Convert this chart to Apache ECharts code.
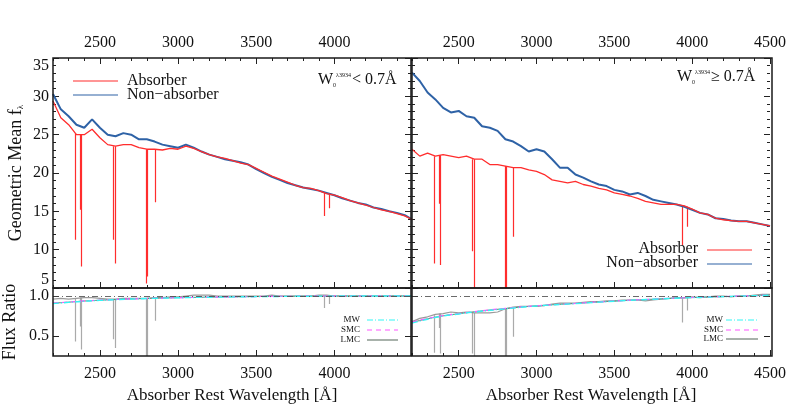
<!DOCTYPE html>
<html>
<head>
<meta charset="utf-8">
<script src="https://cdn.jsdelivr.net/npm/echarts@6/dist/echarts.min.js"></script>
<style>
  html, body { margin: 0; padding: 0; background: #fff; }
  #chart { width: 789px; height: 415px; }
</style>
</head>
<body>
<div id="chart"></div>
<script>
// wavelength grid [A]
const wave = [2200, 2250, 2300, 2350, 2400, 2450, 2500, 2550, 2600, 2650,
  2700, 2750, 2800, 2850, 2900, 2950, 3000, 3050, 3100, 3150,
  3200, 3250, 3300, 3350, 3400, 3450, 3500, 3550, 3600, 3650,
  3700, 3750, 3800, 3850, 3900, 3950, 4000, 4050, 4100, 4150,
  4200, 4250, 4300, 4350, 4400, 4450, 4500];

// left panel: W0 < 0.7A
const absorberL = [29.4, 27.2, 26.3, 25.0, 25.0, 25.7, 24.6, 23.7, 23.5, 23.7,
  23.7, 23.3, 23.1, 23.1, 23.0, 23.2, 23.1, 23.5, 23.2, 22.8,
  22.4, 22.1, 21.9, 21.6, 21.3, 21.1, 20.6, 20.1, 19.6, 19.2,
  18.8, 18.4, 18.1, 18.0, 17.7, 17.3, 17.1, 16.8, 16.4, 16.1,
  15.8, 15.5, 15.2, 15.0, 14.7, 14.4, 13.9];
const nonAbsorberL = [30.3, 28.3, 27.4, 26.3, 25.9, 27.0, 25.9, 25.0, 24.8, 25.2,
  25.0, 24.4, 24.4, 24.1, 23.7, 23.5, 23.3, 23.7, 23.3, 22.8,
  22.4, 22.1, 21.8, 21.6, 21.4, 21.1, 20.5, 20.0, 19.5, 19.1,
  18.7, 18.4, 18.1, 17.9, 17.7, 17.4, 17.1, 16.7, 16.4, 16.1,
  15.9, 15.5, 15.3, 15.0, 14.8, 14.5, 13.9];
const ratioL = [0.96, 0.97, 0.96, 0.97, 0.98, 0.98, 0.97, 0.96, 0.96, 0.97,
  0.97, 0.97, 0.97, 0.98, 0.98, 0.99, 0.99, 1.0, 1.01, 1.01,
  1.01, 1.0, 1.0, 1.0, 1.0, 1.0, 1.0, 1.0, 1.01, 1.0,
  1.0, 1.0, 1.0, 1.0, 1.01, 1.01, 1.0, 1.0, 1.0, 1.0,
  1.0, 1.0, 1.0, 1.0, 1.0, 1.0, 1.0];

// right panel: W0 >= 0.7A
const absorberR = [23.1, 22.2, 22.6, 22.2, 22.4, 22.2, 22.0, 22.2, 21.8, 21.8,
  21.1, 21.1, 20.9, 20.7, 20.7, 20.4, 20.2, 19.8, 19.1, 18.9,
  18.7, 18.9, 18.5, 18.3, 18.0, 17.8, 17.4, 17.2, 17.0, 16.7,
  16.3, 16.1, 15.9, 15.9, 15.9, 15.7, 15.3, 14.8, 14.6, 14.1,
  13.9, 13.8, 13.7, 13.7, 13.5, 13.3, 13.1];
const nonAbsorberR = [33.1, 32.0, 30.5, 29.6, 28.5, 27.9, 28.1, 27.4, 27.2, 26.1,
  25.9, 25.5, 24.4, 24.1, 23.5, 22.8, 23.1, 22.8, 21.8, 20.7,
  20.7, 19.8, 19.4, 18.9, 18.5, 18.3, 17.8, 17.6, 17.2, 17.4,
  17.0, 16.5, 16.3, 16.1, 15.9, 15.6, 15.2, 14.8, 14.6, 14.1,
  14.0, 13.8, 13.7, 13.7, 13.5, 13.3, 13.1];
const ratioR = [0.68, 0.72, 0.74, 0.77, 0.78, 0.80, 0.79, 0.80, 0.79, 0.79,
  0.79, 0.80, 0.84, 0.86, 0.87, 0.87, 0.87, 0.88, 0.90, 0.91,
  0.91, 0.91, 0.92, 0.93, 0.93, 0.94, 0.94, 0.95, 0.95, 0.95,
  0.94, 0.95, 0.96, 0.97, 0.98, 0.98, 0.99, 0.98, 0.99, 1.0,
  1.0, 0.99, 1.0, 1.0, 1.01, 1.02, 1.02];

// absorption lines (FeII, MgII, MgI, CaII)
const lineWave = [2344, 2374, 2383, 2587, 2600, 2796, 2803, 2853, 3934, 3969];
const lineTopL = [25.2, 25.0, 25.0, 23.5, 23.5, 23.1, 23.1, 23.1, 17.5, 17.3];
const lineBotL = [11.3, 15.2, 7.8, 11.3, 8.2, 5.6, 6.5, 16.2, 14.4, 15.4];
const lineTopR = [22.2, 22.3, 22.3, 21.8, 21.8, 20.9, 20.9, 20.7, 15.7, 15.6];
const lineBotR = [8.2, 16.0, 8.0, 9.8, 5.0, 5.0, 5.0, 11.7, 10.6, 13.0];
const ratioTopL = [0.97, 0.98, 0.98, 0.96, 0.96, 0.97, 0.97, 0.98, 1.0, 1.0];
const ratioBotL = [0.43, 0.62, 0.33, 0.46, 0.35, 0.25, 0.25, 0.69, 0.85, 0.90];
const ratioTopR = [0.76, 0.78, 0.78, 0.79, 0.79, 0.84, 0.84, 0.86, 0.98, 0.98];
const ratioBotR = [0.29, 0.60, 0.28, 0.28, 0.25, 0.25, 0.25, 0.49, 0.67, 0.82];

// extinction curve fits to the flux ratio
const fitWave = [2200, 2300, 2400, 2500, 2600, 2800, 3000, 3250, 3500, 3750, 4000, 4250, 4500];
const mwL  = [0.905, 0.92, 0.935, 0.945, 0.955, 0.968, 0.978, 0.986, 0.992, 0.996, 0.999, 1.0, 1.0];
const smcL = [0.91, 0.925, 0.938, 0.948, 0.957, 0.969, 0.979, 0.987, 0.993, 0.997, 1.0, 1.0, 1.0];
const lmcL = [0.91, 0.923, 0.937, 0.947, 0.956, 0.969, 0.979, 0.987, 0.993, 0.997, 0.999, 1.0, 1.0];
const mwR  = [0.66, 0.71, 0.75, 0.775, 0.80, 0.84, 0.875, 0.905, 0.935, 0.96, 0.98, 0.995, 1.01];
const smcR = [0.675, 0.72, 0.755, 0.78, 0.805, 0.845, 0.878, 0.908, 0.937, 0.961, 0.981, 0.996, 1.01];
const lmcR = [0.67, 0.715, 0.752, 0.778, 0.803, 0.843, 0.877, 0.907, 0.936, 0.96, 0.98, 0.995, 1.01];

const majorX = [2500, 3000, 3500, 4000, 4500];

const FONT = 'Liberation Serif';
const RED = '#ff2d2d';
const BLUE = '#2e62a6';
const GREY = '#9a9a9a';
const MW_C = '#33f5f5';
const SMC_C = '#ff55ff';
const LMC_C = '#6f7f74';

// tick label style, through rich text so the serif face sticks
const tickRich = { t: { fontFamily: FONT, fontSize: 16, color: '#111' } };

const pairs = (xs, ys) => xs.map((x, i) => [x, ys[i]]);
const segs = (xs, top, bot) => xs.map((x, i) => ({ coords: [[x, top[i]], [x, bot[i]]] }));

// grids: left/right, top (spectrum) / bottom (ratio)
const grids = [
  { left: 53, top: 58, width: 358, height: 230 },
  { left: 53, top: 288, width: 358, height: 68 },
  { left: 412, top: 58, width: 360, height: 230 },
  { left: 412, top: 288, width: 360, height: 68 }
];

const xMax = [4490, 4490, 4500, 4500];

function xPair(gi, position, labels, name) {
  const base = {
    type: 'value', gridIndex: gi, position: position, min: 2200, max: xMax[gi],
    axisLine: { show: false }, splitLine: { show: false }
  };
  const minor = Object.assign({}, base, {
    interval: 100,
    axisTick: { inside: true, length: 3, lineStyle: { color: '#222', width: 1 } },
    axisLabel: { show: false }
  });
  const major = Object.assign({}, base, {
    axisTick: { inside: true, length: 6, customValues: majorX, lineStyle: { color: '#222', width: 1 } },
    axisLabel: labels ? {
      show: true, customValues: majorX.filter(v => v <= xMax[gi]),
      formatter: v => '{t|' + v + '}', rich: tickRich,
      fontFamily: FONT, fontSize: 16, color: '#111', margin: position === 'top' ? 7 : 10
    } : { show: false }
  });
  if (name) {
    major.name = 'Absorber Rest Wavelength [Å]';
    major.nameLocation = 'middle';
    major.nameGap = 31;
    major.nameTextStyle = { fontFamily: FONT, fontSize: 17, color: '#111' };
  }
  return [minor, major];
}

const xAxes = [].concat(
  xPair(0, 'bottom', false), xPair(0, 'top', true),   // 0..3
  xPair(1, 'bottom', true, true),                      // 4,5
  xPair(2, 'bottom', false), xPair(2, 'top', true),   // 6..9
  xPair(3, 'bottom', true, true)                       // 10,11
);

function ySpec(gi, position, labels) {
  const ax = {
    type: 'value', gridIndex: gi, position: position, min: 5, max: 35, interval: 5,
    axisLine: { show: false }, splitLine: { show: false },
    axisTick: { inside: true, length: 6, lineStyle: { color: '#222' } },
    minorTick: { show: true, splitNumber: 5, length: 3, lineStyle: { color: '#222' } },
    axisLabel: labels ? {
      formatter: v => '{t|' + v + '}', rich: tickRich,
      fontFamily: FONT, fontSize: 16, color: '#111', margin: 4,
      verticalAlignMinLabel: 'bottom', verticalAlignMaxLabel: 'top'
    } : { show: false }
  };
  if (labels) {
    ax.name = '{a|Geometric Mean f}{s|λ}';
    ax.nameLocation = 'middle';
    ax.nameGap = 28;
    ax.nameTextStyle = {
      fontFamily: FONT, color: '#111',
      rich: {
        a: { fontFamily: FONT, fontSize: 18, color: '#111' },
        s: { fontFamily: FONT, fontSize: 9, color: '#111', verticalAlign: 'bottom' }
      }
    };
  }
  return ax;
}

function yRatio(gi, position, labels) {
  const ax = {
    type: 'value', gridIndex: gi, position: position, min: 0.25, max: 1.1,
    axisLine: { show: false }, splitLine: { show: false },
    axisTick: { inside: true, length: 6, customValues: [0.5, 1.0], lineStyle: { color: '#222' } },
    axisLabel: labels ? {
      customValues: [0.5, 1.0], formatter: v => '{t|' + v.toFixed(1) + '}', rich: tickRich,
      fontFamily: FONT, fontSize: 16, color: '#111', margin: 4
    } : { show: false }
  };
  if (labels) {
    ax.name = 'Flux Ratio';
    ax.nameLocation = 'middle';
    ax.nameGap = 34;
    ax.nameTextStyle = { fontFamily: FONT, fontSize: 18, color: '#111' };
  }
  return ax;
}

const yAxes = [
  ySpec(0, 'left', true), ySpec(0, 'right', false),     // 0,1
  yRatio(1, 'left', true), yRatio(1, 'right', false),   // 2,3
  ySpec(2, 'left', false), ySpec(2, 'right', false),    // 4,5
  yRatio(3, 'left', false), yRatio(3, 'right', false)   // 6,7
];

function spec(xi, yi, data, color, width) {
  return {
    type: 'line', xAxisIndex: xi, yAxisIndex: yi, data: data,
    showSymbol: false, silent: true, clip: true,
    lineStyle: { color: color, width: width }
  };
}

function dips(xi, yi, data, color) {
  return {
    type: 'lines', coordinateSystem: 'cartesian2d', xAxisIndex: xi, yAxisIndex: yi,
    data: data, silent: true, polyline: false,
    lineStyle: { color: color, width: 1.2, opacity: 1 }
  };
}

function fit(xi, yi, ys, color, dash, width) {
  return {
    type: 'line', xAxisIndex: xi, yAxisIndex: yi, data: pairs(fitWave, ys),
    showSymbol: false, silent: true, smooth: true,
    lineStyle: { color: color, type: dash, width: width }
  };
}

function unity(xi, yi) {
  return {
    type: 'line', xAxisIndex: xi, yAxisIndex: yi, data: [], silent: true,
    markLine: {
      silent: true, symbol: 'none', label: { show: false },
      lineStyle: { color: '#444', type: [6, 3, 1, 3], width: 0.8 },
      data: [{ yAxis: 1.0 }]
    }
  };
}

const series = [
  // left top
  spec(0, 0, pairs(wave, nonAbsorberL), BLUE, 2),
  spec(0, 0, pairs(wave, absorberL), RED, 1.3),
  dips(0, 0, segs(lineWave, lineTopL, lineBotL), RED),
  // left bottom
  unity(4, 2),
  spec(4, 2, pairs(wave, ratioL), GREY, 1.2),
  dips(4, 2, segs(lineWave, ratioTopL, ratioBotL), '#aaaaaa'),
  fit(4, 2, lmcL, LMC_C, 'solid', 1),
  fit(4, 2, smcL, SMC_C, [5, 4], 1.2),
  fit(4, 2, mwL, MW_C, [6, 2, 1, 2], 1.4),
  // right top
  spec(6, 4, pairs(wave, nonAbsorberR), BLUE, 2),
  spec(6, 4, pairs(wave, absorberR), RED, 1.3),
  dips(6, 4, segs(lineWave, lineTopR, lineBotR), RED),
  // right bottom
  unity(10, 6),
  spec(10, 6, pairs(wave, ratioR), GREY, 1.2),
  dips(10, 6, segs(lineWave, ratioTopR, ratioBotR), '#aaaaaa'),
  fit(10, 6, lmcR, LMC_C, 'solid', 1),
  fit(10, 6, smcR, SMC_C, [5, 4], 1.2),
  fit(10, 6, mwR, MW_C, [6, 2, 1, 2], 1.4)
];

// frames, legends and labels
const frames = grids.map(g => ({
  type: 'rect', silent: true, z: 100,
  shape: { x: g.left, y: g.top, width: g.width, height: g.height },
  style: { fill: 'none', stroke: '#1a1a1a', lineWidth: 1.5 }
}));

function legLine(x1, x2, y, color, dash) {
  return {
    type: 'line', silent: true, z: 100,
    shape: { x1: x1, y1: y, x2: x2, y2: y },
    style: { stroke: color, lineWidth: 1.2, lineDash: dash || null }
  };
}
function txt(x, y, text, size, align) {
  return {
    type: 'text', silent: true, z: 100, x: x, y: y,
    style: { text: text, fontFamily: FONT, fontSize: size, fill: '#111', align: align || 'left', verticalAlign: 'middle' }
  };
}
function wLabel(x, y, rel) {
  return {
    type: 'text', silent: true, z: 100, x: x, y: y,
    style: {
      text: '{m|W}{sub|0}{sup|λ3934}{m|' + rel + ' 0.7Å}',
      verticalAlign: 'middle',
      rich: {
        m: { fontFamily: FONT, fontSize: 16, fill: '#111' },
        sub: { fontFamily: FONT, fontSize: 6, fill: '#111', verticalAlign: 'bottom', padding: [8, 0, 0, 0] },
        sup: { fontFamily: FONT, fontSize: 6, fill: '#111', verticalAlign: 'top', padding: [0, 1, 8, 0] }
      }
    }
  };
}

const graphics = frames.concat([
  legLine(73, 118, 81, RED), txt(127, 81, 'Absorber', 16),
  legLine(73, 118, 95, BLUE), txt(127, 95, 'Non−absorber', 16),
  wLabel(318, 80, '<'),
  wLabel(677, 77, '≥'),
  txt(698, 249, 'Absorber', 16, 'right'), legLine(707, 752, 250, RED),
  txt(698, 263, 'Non−absorber', 16, 'right'), legLine(707, 752, 264, BLUE),
  // ratio legends
  txt(360, 320, 'MW', 9, 'right'), legLine(367, 398, 320, MW_C, [6, 2, 1, 2]),
  txt(360, 330, 'SMC', 9, 'right'), legLine(367, 398, 330, SMC_C, [5, 4]),
  txt(360, 340, 'LMC', 9, 'right'), legLine(367, 398, 340, LMC_C),
  txt(723, 320, 'MW', 9, 'right'), legLine(726, 758, 320, MW_C, [6, 2, 1, 2]),
  txt(723, 330, 'SMC', 9, 'right'), legLine(726, 758, 330, SMC_C, [5, 4]),
  txt(723, 339, 'LMC', 9, 'right'), legLine(726, 758, 339, LMC_C)
]);

const chart = echarts.init(document.getElementById('chart'));
chart.setOption({
  animation: false,
  backgroundColor: '#fff',
  textStyle: { fontFamily: FONT },
  grid: grids,
  xAxis: xAxes,
  yAxis: yAxes,
  series: series,
  graphic: graphics
});
</script>
</body>
</html>
